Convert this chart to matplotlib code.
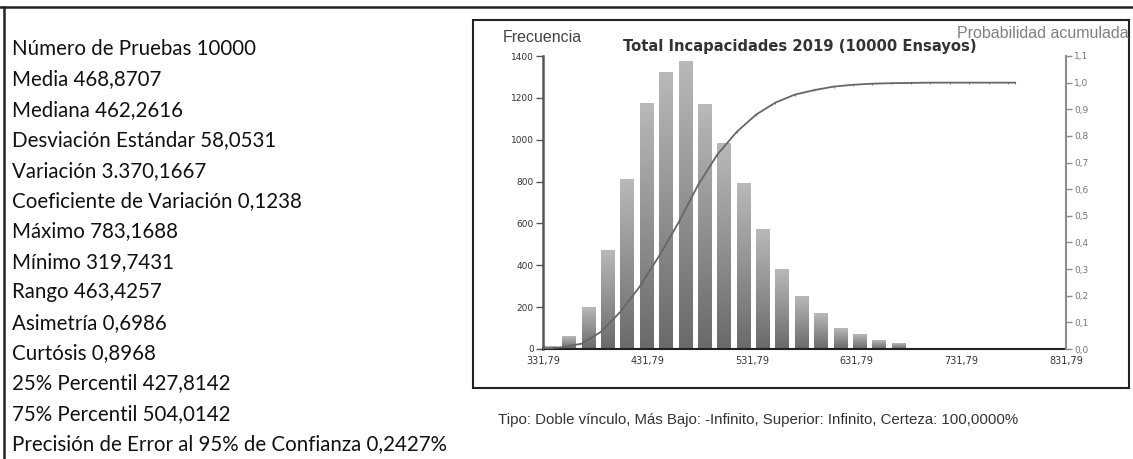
import numpy as np
import matplotlib
matplotlib.use("Agg")
import matplotlib.pyplot as plt
from matplotlib.colors import LinearSegmentedColormap
from matplotlib.patches import Rectangle
from matplotlib.lines import Line2D

# Estadísticas del pronóstico
estadisticas = [
    "Número de Pruebas 10000",
    "Media 468,8707",
    "Mediana 462,2616",
    "Desviación Estándar 58,0531",
    "Variación 3.370,1667",
    "Coeficiente de Variación 0,1238",
    "Máximo 783,1688",
    "Mínimo 319,7431",
    "Rango 463,4257",
    "Asimetría 0,6986",
    "Curtósis 0,8968",
    "25% Percentil 427,8142",
    "75% Percentil 504,0142",
    "Precisión de Error al 95% de Confianza 0,2427%",
]

# Histograma de frecuencias (inicio de clase y conteo)
inicio_clase = 331.79
ancho_clase = 18.52
frecuencias = [10, 62, 200, 473, 812, 1175, 1323, 1376, 1170, 980,
               793, 573, 378, 253, 172, 100, 70, 40, 25]

# Probabilidad acumulada
acum_x = [331.79, 350.31, 368.83, 387.35, 405.87, 424.38, 442.90, 461.42,
          479.94, 498.46, 516.98, 535.50, 554.01, 572.53, 591.05, 609.57,
          628.09, 646.61, 665.13, 683.64, 702.16, 720.68, 739.20, 757.72,
          776.24, 783.17]
acum_p = [0.0, 0.007, 0.02, 0.065, 0.14, 0.235, 0.35, 0.475,
          0.615, 0.73, 0.815, 0.88, 0.925, 0.955, 0.972, 0.985,
          0.992, 0.996, 0.998, 0.999, 1.0, 1.0, 1.0, 1.0,
          1.0, 1.0]

x_ticks = [331.79, 431.79, 531.79, 631.79, 731.79, 831.79]
y_ticks = [0, 200, 400, 600, 800, 1000, 1200, 1400]
p_ticks = [0.0, 0.1, 0.2, 0.3, 0.4, 0.5, 0.6, 0.7, 0.8, 0.9, 1.0, 1.1]

titulo = "Total Incapacidades 2019 (10000 Ensayos)"
pie = "Tipo: Doble vínculo, Más Bajo: -Infinito, Superior: Infinito, Certeza: 100,0000%"

W, H = 1133, 459
fig = plt.figure(figsize=(W / 100, H / 100), dpi=100)
fig.patch.set_facecolor("white")


def fx(x):
    return x / W


def fy(y):
    return 1 - y / H


def coma(v, dec):
    return f"{v:.{dec}f}".replace(".", ",")


# bordes de la celda
fig.add_artist(Line2D([0, 1], [fy(7), fy(7)], color="#222222", lw=1.8))
fig.add_artist(Line2D([fx(4), fx(4)], [fy(7), 0], color="#222222", lw=1.8))

# texto de estadísticas
for i, linea in enumerate(estadisticas):
    fig.text(fx(12), fy(49 + i * 30.4), linea, fontsize=14.8, family="Lato",
             color="#111111", va="center", ha="left")

# marco del gráfico
marco = Rectangle((fx(473), fy(388)), fx(1129) - fx(473), fy(20) - fy(388),
                  transform=fig.transFigure, fill=False, ec="#222222", lw=1.5)
fig.add_artist(marco)

ax = fig.add_axes([fx(543), fy(349), fx(1066) - fx(543), fy(56) - fy(349)])

cmap = LinearSegmentedColormap.from_list("gris", ["#6a6a6a", "#b8b8b8"])
grad = np.linspace(0, 1, 64)[:, None]
for i, f in enumerate(frecuencias):
    x0 = inicio_clase + i * ancho_clase
    ax.imshow(grad, extent=[x0, x0 + ancho_clase * 0.7, 0, f], origin="lower",
              cmap=cmap, aspect="auto", zorder=2, interpolation="bilinear")

ax.set_xlim(x_ticks[0], x_ticks[-1])
ax.set_ylim(0, 1400)
ax.set_xticks(x_ticks)
ax.set_xticklabels([coma(v, 2) for v in x_ticks])
ax.set_yticks(y_ticks)
ax.set_yticklabels([str(v) for v in y_ticks])
ax.tick_params(axis="x", length=0, pad=5, labelsize=7, labelcolor="#333333")
ax.tick_params(axis="y", direction="out", length=5, width=1, color="#555555",
               pad=1.5, labelsize=6.5, labelcolor="#333333")
for s in ["top", "right"]:
    ax.spines[s].set_visible(False)
ax.spines["left"].set_color("#555555")
ax.spines["left"].set_linewidth(1.8)
ax.spines["bottom"].set_color("#222222")
ax.spines["bottom"].set_linewidth(1.5)
ax.spines["bottom"].set_zorder(5)

ax2 = ax.twinx()
ax2.plot(acum_x, acum_p, color="#666666", lw=1.3, marker="|", ms=1.6,
         mew=0.6, zorder=4)
ax2.set_ylim(0, 1.1)
ax2.set_yticks(p_ticks)
ax2.set_yticklabels([coma(v, 1) for v in p_ticks])
ax2.tick_params(axis="y", direction="out", length=4.5, width=1, color="#8c8c8c",
                pad=1.5, labelsize=6.5, labelcolor="#777777")
for s in ["top", "left", "bottom"]:
    ax2.spines[s].set_visible(False)
ax2.spines["right"].set_color("#8c8c8c")
ax2.spines["right"].set_linewidth(1.5)

# rótulos del gráfico
fig.text(fx(503), fy(38), "Frecuencia", fontsize=11.5, family="Liberation Sans",
         color="#444444", va="center", ha="left")
fig.text(fx(623), fy(47), titulo, fontsize=10.6, family="DejaVu Sans",
         fontweight="bold", color="#333333", va="center", ha="left")
fig.text(fx(957), fy(34), "Probabilidad acumulada", fontsize=11.5,
         family="Liberation Sans", color="#808080", va="center", ha="left")
fig.text(fx(498), fy(420), pie, fontsize=10.8, family="Liberation Sans",
         color="#333333", va="center", ha="left")

fig.savefig("out.png", dpi=100, facecolor="white")
